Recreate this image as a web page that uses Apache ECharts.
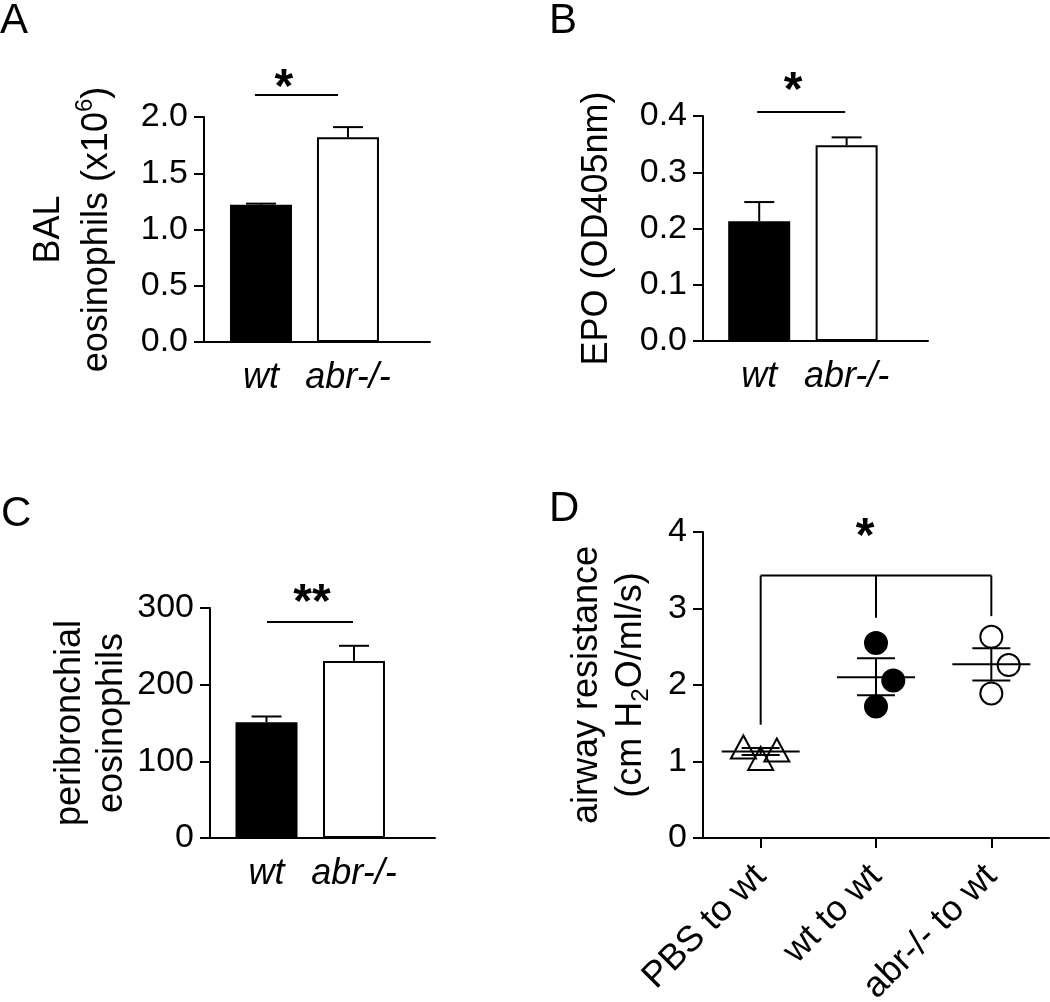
<!DOCTYPE html>
<html><head><meta charset="utf-8">
<script src="https://cdn.jsdelivr.net/npm/echarts@6/dist/echarts.min.js"></script>
<style>html,body{margin:0;padding:0;background:#fff;}#c{width:1050px;height:1002px;}</style>
</head><body><div id="c"></div>
<script>
// ---------- data ----------
const groups = ['wt', 'abr-/-'];
const groupPos = [0, 1];
// Panel A: BAL eosinophils (x10^6)
const balMean = [1.22, 1.82];
const balErrTop = [1.23, 1.91];
const ticksA = [0, 0.5, 1.0, 1.5, 2.0];
const labelsA = ['0.0', '0.5', '1.0', '1.5', '2.0'];
const sigLineA = [-0.07, 0.885, 2.196];
const starA = [0.264, 2.338];
// Panel B: EPO (OD405nm)
const epoMean = [0.213, 0.348];
const epoErrTop = [0.247, 0.362];
const ticksB = [0, 0.1, 0.2, 0.3, 0.4];
const labelsB = ['0.0', '0.1', '0.2', '0.3', '0.4'];
const sigLineB = [-0.023, 0.983, 0.407];
const starB = [0.389, 0.4605];
// Panel C: peribronchial eosinophils
const periMean = [151, 231];
const periErrTop = [158.5, 250.7];
const ticksC = [0, 100, 200, 300];
const labelsC = ['0', '100', '200', '300'];
const sigLineC = [0.006, 0.989, 281.7];
const starC = [0.52, 318];
// Panel D: airway resistance
const transferGroups = ['PBS to wt', 'wt to wt', 'abr-/- to wt'];
const pbsX = [-0.15, 0, 0.14];
const pbsY = [1.19, 1.04, 1.15];
const wtX = [1, 1.15, 1];
const wtY = [2.55, 2.06, 1.72];
const abrX = [2, 2.15, 2];
const abrY = [2.63, 2.26, 1.89];
const dMean = [1.13, 2.10, 2.27];
const dSemLow = [1.085, 1.865, 2.06];
const dSemHigh = [1.175, 2.35, 2.48];
const ticksD = [0, 1, 2, 3, 4];
const labelsD = ['0', '1', '2', '3', '4'];
const bracketTop = 3.43;
const bracketDrops = [1.48, 2.88, 2.90];
const starD = [0.906, 4.06];

// ---------- helpers ----------
const FONT = '"Liberation Sans", Arial, Helvetica, sans-serif';
const K = '#000';
function lookup(ticks, labels) {
  return v => { for (let i = 0; i < ticks.length; i++) if (Math.abs(ticks[i] - v) < 1e-9) return labels[i]; return ''; };
}
function yAxis(grid, max, interval, ticks, labels, name, gap, lh) {
  return {
    gridIndex: grid, type: 'value', min: 0, max: max, interval: interval,
    axisLine: { show: true, onZero: false, lineStyle: { color: K, width: 2 } },
    axisTick: { show: true, length: 10, lineStyle: { color: K, width: 2 } },
    splitLine: { show: false },
    axisLabel: { fontSize: 34, color: K, fontFamily: FONT, margin: 16, formatter: lookup(ticks, labels) },
    name: name, nameLocation: 'middle', nameRotate: 90, nameGap: gap,
    nameTextStyle: {
      color: K, fontFamily: FONT, fontSize: 36, lineHeight: lh,
      rich: {
        t: { fontSize: 36, lineHeight: lh, fontFamily: FONT, color: K },
        sup: { fontSize: 24, lineHeight: 26, verticalAlign: 'top', fontFamily: FONT, color: K },
        sub: { fontSize: 24, lineHeight: 22, verticalAlign: 'bottom', fontFamily: FONT, color: K }
      }
    }
  };
}
function xBarAxis(grid, min, max) {
  return {
    gridIndex: grid, type: 'value', min: min, max: max,
    axisLine: { show: true, onZero: false, lineStyle: { color: K, width: 2 } },
    axisTick: { show: false },
    splitLine: { show: false },
    axisLabel: {
      customValues: groupPos, fontSize: 36, fontStyle: 'italic', color: K, fontFamily: FONT, margin: 18,
      formatter: v => groups[Math.round(v)]
    }
  };
}
function errRender(params, api) {
  const p0 = api.coord([api.value(0), api.value(1)]);
  const p1 = api.coord([api.value(0), api.value(2)]);
  return { type: 'group', children: [
    { type: 'line', shape: { x1: p0[0], y1: p0[1], x2: p1[0], y2: p1[1] }, style: { stroke: K, lineWidth: 2 } },
    { type: 'line', shape: { x1: p1[0] - 15, y1: p1[1], x2: p1[0] + 15, y2: p1[1] }, style: { stroke: K, lineWidth: 2 } }
  ]};
}
function sigRender(params, api) {
  const a = api.coord([api.value(0), api.value(2)]);
  const b = api.coord([api.value(1), api.value(2)]);
  return { type: 'line', shape: { x1: a[0], y1: a[1], x2: b[0], y2: b[1] }, style: { stroke: K, lineWidth: 2 } };
}
function starSeries(xi, yi, pos, txt) {
  return {
    type: 'custom', xAxisIndex: xi, yAxisIndex: yi, clip: false, silent: true,
    data: [[pos[0], pos[1]]],
    renderItem: (params, api) => {
      const p = api.coord([api.value(0), api.value(1)]);
      return { type: 'text', x: p[0], y: p[1] + 10, style: { text: txt, font: 'bold 48px ' + FONT, fill: K, align: 'center', verticalAlign: 'middle' } };
    }
  };
}
function barPanel(xi, mean, errTop, sig, star, starTxt) {
  return [
    { type: 'bar', xAxisIndex: xi, yAxisIndex: xi, barWidth: 62, silent: true,
      itemStyle: { borderColor: K, borderWidth: 2 },
      data: mean.map((v, i) => ({ value: [groupPos[i], v], itemStyle: { color: i === 0 ? K : '#fff' } })) },
    { type: 'custom', xAxisIndex: xi, yAxisIndex: xi, clip: false, silent: true,
      data: mean.map((v, i) => [groupPos[i], v, errTop[i]]), renderItem: errRender },
    { type: 'custom', xAxisIndex: xi, yAxisIndex: xi, clip: false, silent: true,
      data: [sig], renderItem: sigRender },
    starSeries(xi, xi, star, starTxt)
  ];
}

const chart = echarts.init(document.getElementById('c'), null, { renderer: 'canvas' });
const option = {
  animation: false,
  backgroundColor: '#fff',
  textStyle: { fontFamily: FONT },
  grid: [
    { left: 204, top: 117, width: 226, height: 225, containLabel: false, outerBoundsMode: 'none' },
    { left: 703, top: 116, width: 225, height: 225, containLabel: false, outerBoundsMode: 'none' },
    { left: 210, top: 608, width: 225, height: 230, containLabel: false, outerBoundsMode: 'none' },
    { left: 703, top: 532, width: 346, height: 306, containLabel: false, outerBoundsMode: 'none' }
  ],
  xAxis: [
    xBarAxis(0, -0.655, 1.943),
    xBarAxis(1, -0.643, 1.931),
    xBarAxis(2, -0.646, 1.926),
    { gridIndex: 3, type: 'category', data: transferGroups, boundaryGap: true,
      axisLine: { show: true, onZero: false, lineStyle: { color: K, width: 2 } },
      axisTick: { show: true, alignWithLabel: true, length: 10, lineStyle: { color: K, width: 2 } },
      axisLabel: { rotate: 45, fontSize: 36, color: K, fontFamily: FONT, margin: 33, interval: 0, hideOverlap: false },
      splitLine: { show: false } },
    { gridIndex: 3, type: 'value', min: -0.5, max: 2.5, show: false }
  ],
  yAxis: [
    yAxis(0, 2, 0.5, ticksA, labelsA, '{t|BAL}\n{t|eosinophils (x10}{sup|6}{t|)}', 83, 48),
    yAxis(1, 0.4, 0.1, ticksB, labelsB, '{t|EPO (OD405nm)}', 84, 44),
    yAxis(2, 300, 100, ticksC, labelsC, '{t|peribronchial}\n{t|eosinophils}', 73, 42),
    yAxis(3, 4, 1, ticksD, labelsD, '{t|airway resistance}\n{t|(cm H}{sub|2}{t|O/ml/s)}', 50, 44)
  ],
  series: [
    ...barPanel(0, balMean, balErrTop, sigLineA, starA, '*'),
    ...barPanel(1, epoMean, epoErrTop, sigLineB, starB, '*'),
    ...barPanel(2, periMean, periErrTop, sigLineC, starC, '**'),
    { type: 'scatter', xAxisIndex: 4, yAxisIndex: 3, symbol: 'triangle', symbolSize: [25, 23], silent: true,
      itemStyle: { color: 'rgba(0,0,0,0)', borderColor: K, borderWidth: 2, opacity: 1 },
      data: pbsX.map((x, i) => [x, pbsY[i]]) },
    { type: 'scatter', xAxisIndex: 4, yAxisIndex: 3, symbol: 'circle', symbolSize: 22, silent: true,
      itemStyle: { color: K, borderColor: K, borderWidth: 2, opacity: 1 },
      data: wtX.map((x, i) => [x, wtY[i]]) },
    { type: 'scatter', xAxisIndex: 4, yAxisIndex: 3, symbol: 'circle', symbolSize: 22, silent: true,
      itemStyle: { color: 'rgba(0,0,0,0)', borderColor: K, borderWidth: 2, opacity: 1 },
      data: abrX.map((x, i) => [x, abrY[i]]) },
    { type: 'custom', xAxisIndex: 4, yAxisIndex: 3, clip: false, silent: true, z: 5,
      data: dMean.map((m, i) => [i, m, dSemLow[i], dSemHigh[i]]),
      renderItem: (params, api) => {
        const x = api.value(0);
        const m = api.coord([x, api.value(1)]);
        const lo = api.coord([x, api.value(2)]);
        const hi = api.coord([x, api.value(3)]);
        const st = { stroke: K, lineWidth: 2 };
        return { type: 'group', children: [
          { type: 'line', shape: { x1: m[0] - 39, y1: m[1], x2: m[0] + 39, y2: m[1] }, style: st },
          { type: 'line', shape: { x1: lo[0], y1: lo[1], x2: hi[0], y2: hi[1] }, style: st },
          { type: 'line', shape: { x1: lo[0] - 19, y1: lo[1], x2: lo[0] + 19, y2: lo[1] }, style: st },
          { type: 'line', shape: { x1: hi[0] - 19, y1: hi[1], x2: hi[0] + 19, y2: hi[1] }, style: st }
        ]};
      } },
    { type: 'custom', xAxisIndex: 4, yAxisIndex: 3, clip: false, silent: true,
      data: [[0, 2, bracketTop].concat(bracketDrops)],
      renderItem: (params, api) => {
        const top = api.value(2);
        const st = { stroke: K, lineWidth: 2 };
        const a = api.coord([api.value(0), top]);
        const b = api.coord([api.value(1), top]);
        const kids = [{ type: 'line', shape: { x1: a[0], y1: a[1], x2: b[0], y2: b[1] }, style: st }];
        for (let i = 0; i < 3; i++) {
          const t = api.coord([i, top]);
          const d = api.coord([i, api.value(3 + i)]);
          kids.push({ type: 'line', shape: { x1: t[0], y1: t[1], x2: d[0], y2: d[1] }, style: st });
        }
        return { type: 'group', children: kids };
      } },
    starSeries(4, 3, starD, '*')
  ],
  graphic: [
    { type: 'text', left: 0, top: 0, style: { text: 'A', font: '42px ' + FONT, fill: K } },
    { type: 'text', left: 549, top: 0, style: { text: 'B', font: '42px ' + FONT, fill: K } },
    { type: 'text', left: 1, top: 493, style: { text: 'C', font: '42px ' + FONT, fill: K } },
    { type: 'text', left: 549, top: 488, style: { text: 'D', font: '42px ' + FONT, fill: K } }
  ]
};
chart.setOption(option);
</script></body></html>
